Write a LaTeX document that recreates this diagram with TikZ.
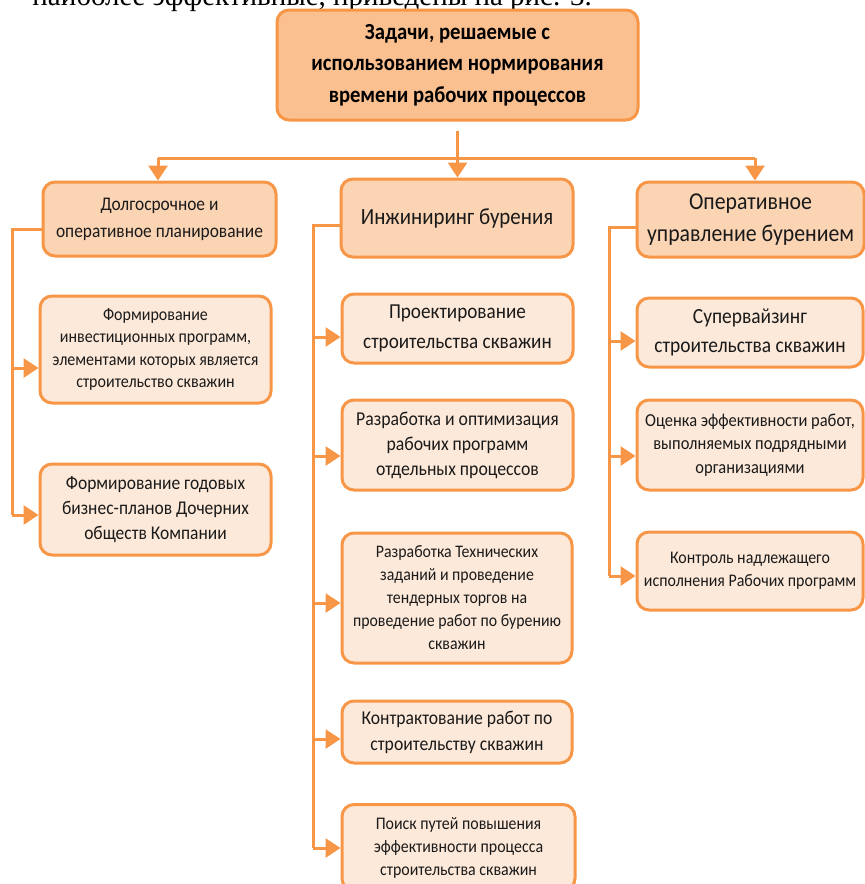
\documentclass[tikz,border=0pt]{standalone}
\usepackage{fontspec}
\setmainfont{Carlito}[FakeStretch=0.9]
\newfontfamily\serifdoc{Liberation Serif}
\usetikzlibrary{arrows.meta}
\definecolor{oline}{HTML}{F79646}
\definecolor{ftop}{HTML}{FAC090}
\definecolor{fmid}{HTML}{FBD4B4}
\definecolor{fleaf}{HTML}{FDE9D9}
\definecolor{txt}{HTML}{1A1A1A}
\tikzset{
  box/.style={draw=oline, line width=3pt, rounded corners=12pt, align=center, text=txt, inner sep=2pt},
  topbox/.style={box, fill=ftop, font=\bfseries\fontsize{23}{31.5}\selectfont, text=black},
  midbox/.style={box, fill=fmid},
  leafbox/.style={box, fill=fleaf},
  link/.style={draw=oline, line width=3pt},
  arr/.style={link, -{Triangle[length=15pt,width=19pt]}},
}
\begin{document}
\begin{tikzpicture}[x=1pt,y=-1pt]
\path[use as bounding box, clip] (0,0) rectangle (865,884);
\node[anchor=base east, font=\serifdoc\fontsize{29}{32}\selectfont, inner sep=0pt] (doc) at (592,5) {наиболее эффективные, приведены на рис. 3.};

\node[topbox, minimum width=361pt, minimum height=110pt] (top) at (457.5,65) {Задачи, решаемые с\\использованием нормирования\\времени рабочих процессов};

\node[midbox, minimum width=233pt, minimum height=74pt, font=\fontsize{19.3}{27}\selectfont] (pl) at (159.5,219) {Долгосрочное и\\оперативное планирование};
\node[midbox, minimum width=232pt, minimum height=78pt, font=\fontsize{23.2}{30}\selectfont] (ing) at (457,218) {Инжиниринг бурения};
\node[midbox, minimum width=227pt, minimum height=75pt, font=\fontsize{24.2}{32}\selectfont] (op) at (750.5,219.5) {Оперативное\\управление бурением};

\node[leafbox, minimum width=231pt, minimum height=107pt, font=\fontsize{17.8}{22.5}\selectfont] (l1) at (155.5,349.5) {Формирование\\инвестиционных программ,\\элементами которых является\\строительство скважин};
\node[leafbox, minimum width=231pt, minimum height=91pt, font=\fontsize{19.4}{25}\selectfont] (l2) at (155.5,509.5) {Формирование годовых\\бизнес-планов Дочерних\\обществ Компании};

\node[leafbox, minimum width=231pt, minimum height=69pt, font=\fontsize{21.3}{30}\selectfont] (m1) at (457.5,328.5) {Проектирование\\строительства скважин};
\node[leafbox, minimum width=231pt, minimum height=90pt, font=\fontsize{19.7}{25}\selectfont] (m2) at (457.5,445) {Разработка и оптимизация\\рабочих программ\\отдельных процессов};
\node[leafbox, minimum width=230pt, minimum height=130pt, font=\fontsize{17.6}{23}\selectfont] (m3) at (457,598) {Разработка Технических\\заданий и проведение\\тендерных торгов на\\проведение работ по бурению\\скважин};
\node[leafbox, minimum width=230pt, minimum height=62pt, font=\fontsize{19.6}{26}\selectfont] (m4) at (457,732) {Контрактование работ по\\строительству скважин};
\node[leafbox, minimum width=233pt, minimum height=86pt, font=\fontsize{17.7}{23}\selectfont, anchor=north] (m5) at (458.5,803) {\rule{0pt}{12pt}Поиск путей повышения\\эффективности процесса\\строительства скважин};

\node[leafbox, minimum width=226pt, minimum height=69pt, font=\fontsize{21.6}{29}\selectfont] (r1) at (750,332.5) {Супервайзинг\\строительства скважин};
\node[leafbox, minimum width=226pt, minimum height=90pt, font=\fontsize{18.3}{23.5}\selectfont] (r2) at (750,445) {Оценка эффективности работ,\\выполняемых подрядными\\организациями};
\node[leafbox, minimum width=226pt, minimum height=78pt, font=\fontsize{17.7}{23}\selectfont] (r3) at (750,571) {Контроль надлежащего\\исполнения Рабочих программ};

% top distribution
\coordinate (hub) at (457.5,158);
\coordinate (hl) at (158,158);
\coordinate (hr) at (755,158);
\draw[link] ([yshift=-9pt]top.south) -- (hub);
\draw[link] (hl) -- (hr);
\draw[arr] (hub) -- (hub |- ing.north);
\draw[arr] (hl) -- (hl |- pl.north);
\draw[arr] (hr) -- (hr |- op.north);

% left trunk
\coordinate (tl) at (12,229);
\coordinate (tlb) at (12,515);
\draw[link] (pl.west |- tl) -- (tl) -- (tlb);
\draw[arr] (12,368) -- (l1.west |- 0,368);
\draw[arr] (tlb) -- (l2.west |- tlb);

% middle trunk
\coordinate (tm) at (313,225);
\coordinate (tmb) at (313,848);
\draw[link] (ing.west |- tm) -- (tm) -- (tmb);
\draw[arr] (313,337) -- (m1.west |- 0,337);
\draw[arr] (313,456) -- (m2.west |- 0,456);
\draw[arr] (313,603) -- (m3.west |- 0,603);
\draw[arr] (313,739) -- (m4.west |- 0,739);
\draw[arr] (tmb) -- (m5.west |- tmb);

% right trunk
\coordinate (tr) at (609,227);
\coordinate (trb) at (609,576);
\draw[link] (op.west |- tr) -- (tr) -- (trb);
\draw[arr] (609,341) -- (r1.west |- 0,341);
\draw[arr] (609,456) -- (r2.west |- 0,456);
\draw[arr] (trb) -- (r3.west |- trb);
\end{tikzpicture}
\end{document}
